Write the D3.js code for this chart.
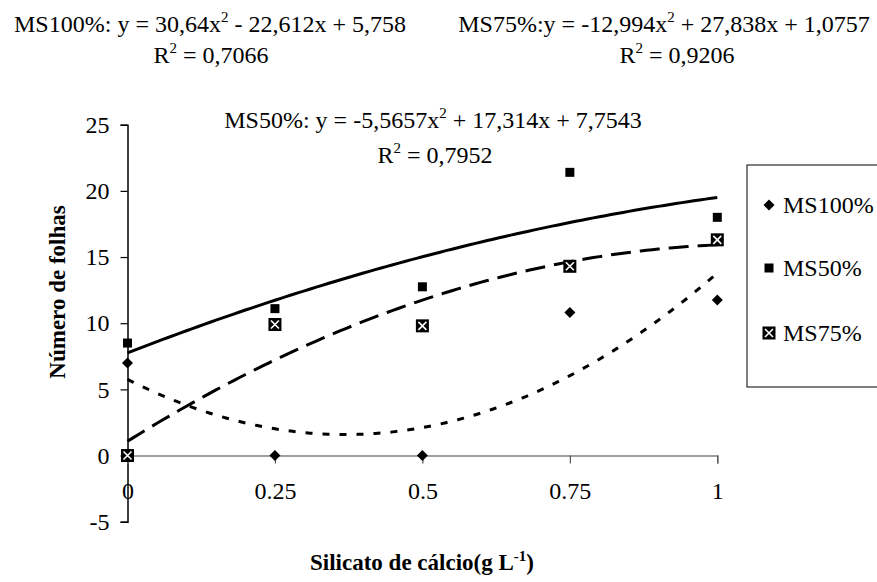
<!DOCTYPE html>
<html>
<head>
<meta charset="utf-8">
<script src="https://cdn.jsdelivr.net/npm/d3@7"></script>
<style>
  body { margin: 0; background: #fff; }
  svg text { font-family: 'Liberation Serif', 'DejaVu Serif', serif; fill: #000; }
</style>
</head>
<body>
<div id="stage"></div>
<script>
// data
var x_values = [0, 0.25, 0.5, 0.75, 1];
var ms100 = [7.0, 0, 0, 10.8, 11.75];
var ms50 = [8.5, 11.1, 12.75, 21.4, 18.0];
var ms75 = [0, 9.9, 9.8, 14.3, 16.3];
var x_ticks = [0, 0.25, 0.5, 0.75, 1];
var y_ticks = [-5, 0, 5, 10, 15, 20, 25];

// trendline coefficients shown in the chart [a, b, c] for a*x^2 + b*x + c
var fit100 = [30.64, -22.612, 5.758];
var fit50 = [-5.5657, 17.314, 7.7543];
var fit75 = [-12.994, 27.838, 1.0757];

var stage_width = 877;
var stage_height = 582;
var serif = "'Liberation Serif', 'DejaVu Serif', serif";

build_scene();

function build_scene() {
  var svg = d3.select("#stage")
    .append("svg")
    .attr("width", stage_width)
    .attr("height", stage_height)
    .attr("font-family", serif);

  svg.append("rect")
    .attr("width", stage_width)
    .attr("height", stage_height)
    .attr("fill", "#fff");

  var x = d3.scaleLinear().domain([0, 1]).range([127.5, 717.3]);
  var y = d3.scaleLinear().domain([-5, 25]).range([521.7, 124.7]);

  // y axis
  var y_axis = svg.append("g")
    .attr("transform", "translate(" + x(0) + ",0)")
    .call(d3.axisLeft(y).tickValues(y_ticks).tickSize(7).tickPadding(11)
      .tickFormat(function(d) { return String(d); }));
  y_axis.attr("font-family", serif).attr("font-size", 24);
  y_axis.select(".domain").attr("stroke", "#000").attr("stroke-width", 1.5);
  y_axis.selectAll(".tick line").attr("stroke", "#000").attr("stroke-width", 1.2);
  y_axis.selectAll("text").attr("fill", "#000");

  // x axis on the zero line
  var x_axis = svg.append("g")
    .attr("transform", "translate(0," + y(0) + ")")
    .call(d3.axisBottom(x).tickValues(x_ticks).tickSize(8).tickPadding(18)
      .tickFormat(function(d) { return String(d); }));
  x_axis.attr("font-family", serif).attr("font-size", 24);
  x_axis.select(".domain").attr("stroke", "#808080").attr("stroke-width", 1.5);
  x_axis.selectAll(".tick line").attr("stroke", "#555").attr("stroke-width", 1.2);
  x_axis.selectAll("text").attr("fill", "#000");

  // trendlines
  var samples = d3.range(0, 1.0001, 0.01);
  var line = d3.line()
    .x(function(d) { return x(d[0]); })
    .y(function(d) { return y(d[1]); });
  function curve(c) {
    return samples.map(function(t) { return [t, c[0] * t * t + c[1] * t + c[2]]; });
  }
  svg.append("path").datum(curve(fit50)).attr("d", line)
    .attr("fill", "none").attr("stroke", "#000").attr("stroke-width", 3);
  svg.append("path").datum(curve(fit75)).attr("d", line)
    .attr("fill", "none").attr("stroke", "#000").attr("stroke-width", 3)
    .attr("stroke-dasharray", "20,9");
  svg.append("path").datum(curve(fit100)).attr("d", line)
    .attr("fill", "none").attr("stroke", "#000").attr("stroke-width", 3)
    .attr("stroke-dasharray", "7,10");

  // markers
  var pts100 = x_values.map(function(d, i) { return [d, ms100[i]]; });
  var pts50 = x_values.map(function(d, i) { return [d, ms50[i]]; });
  var pts75 = x_values.map(function(d, i) { return [d, ms75[i]]; });

  svg.selectAll(".m100").data(pts100).enter().append("path")
    .attr("class", "m100")
    .attr("d", "M0,-5.5L5.5,0L0,5.5L-5.5,0Z")
    .attr("transform", function(d) { return "translate(" + x(d[0]) + "," + y(d[1]) + ")"; })
    .attr("fill", "#000");

  svg.selectAll(".m50").data(pts50).enter().append("rect")
    .attr("class", "m50")
    .attr("x", function(d) { return x(d[0]) - 4.5; })
    .attr("y", function(d) { return y(d[1]) - 4.5; })
    .attr("width", 9).attr("height", 9)
    .attr("fill", "#000");

  var m75 = svg.selectAll(".m75").data(pts75).enter().append("g")
    .attr("class", "m75")
    .attr("transform", function(d) { return "translate(" + x(d[0]) + "," + y(d[1]) + ")"; });
  draw_boxx(m75);

  // legend
  var legend = svg.append("g");
  legend.append("rect")
    .attr("x", 747).attr("y", 165).attr("width", 140).attr("height", 222)
    .attr("fill", "#fff").attr("stroke", "#000").attr("stroke-width", 1);
  var leg_items = ["MS100%", "MS50%", "MS75%"];
  var leg_y = [205, 268, 333];
  legend.append("path").attr("d", "M0,-5.5L5.5,0L0,5.5L-5.5,0Z")
    .attr("transform", "translate(769," + leg_y[0] + ")").attr("fill", "#000");
  legend.append("rect").attr("x", 764.5).attr("y", leg_y[1] - 4.5)
    .attr("width", 9).attr("height", 9).attr("fill", "#000");
  draw_boxx(legend.append("g").attr("transform", "translate(769," + leg_y[2] + ")"));
  legend.selectAll(".lt").data(leg_items).enter().append("text")
    .attr("class", "lt")
    .attr("x", 783)
    .attr("y", function(d, i) { return leg_y[i]; })
    .attr("dy", "0.35em")
    .attr("font-size", 24)
    .text(function(d) { return d; });

  // equation labels
  add_equation(svg, 210, 32, "MS100%: y = 30,64x", " - 22,612x + 5,758");
  add_r2(svg, 211, 63, "0,7066");
  add_equation(svg, 664, 32, "MS75%:y = -12,994x", " + 27,838x + 1,0757");
  add_r2(svg, 677, 63, "0,9206");
  add_equation(svg, 433, 128, "MS50%: y = -5,5657x", " + 17,314x + 7,7543");
  add_r2(svg, 435, 163, "0,7952");

  // axis titles
  var xt = svg.append("text")
    .attr("x", 422).attr("y", 570)
    .attr("text-anchor", "middle")
    .attr("font-size", 23).attr("font-weight", "bold");
  xt.append("tspan").text("Silicato de cálcio(g L");
  xt.append("tspan").attr("dy", -9).attr("font-size", 15).text("-1");
  xt.append("tspan").attr("dy", 9).text(")");

  svg.append("text")
    .attr("transform", "translate(65,292) rotate(-90)")
    .attr("text-anchor", "middle")
    .attr("font-size", 23).attr("font-weight", "bold")
    .text("Número de folhas");
}

function draw_boxx(g) {
  g.append("rect").attr("x", -6.5).attr("y", -6.5).attr("width", 13).attr("height", 13)
    .attr("fill", "#000");
  g.append("path").attr("d", "M-4,-4L4,4M-4,4L4,-4")
    .attr("stroke", "#fff").attr("stroke-width", 1.6);
}

function add_equation(svg, cx, by, part1, part2) {
  var t = svg.append("text")
    .attr("x", cx).attr("y", by)
    .attr("text-anchor", "middle")
    .attr("font-size", 24);
  t.append("tspan").text(part1);
  t.append("tspan").attr("dy", -10).attr("font-size", 15).text("2");
  t.append("tspan").attr("dy", 10).text(part2);
}

function add_r2(svg, cx, by, val) {
  var t = svg.append("text")
    .attr("x", cx).attr("y", by)
    .attr("text-anchor", "middle")
    .attr("font-size", 24);
  t.append("tspan").text("R");
  t.append("tspan").attr("dy", -10).attr("font-size", 15).text("2");
  t.append("tspan").attr("dy", 10).text(" = " + val);
}
</script>
</body>
</html>
